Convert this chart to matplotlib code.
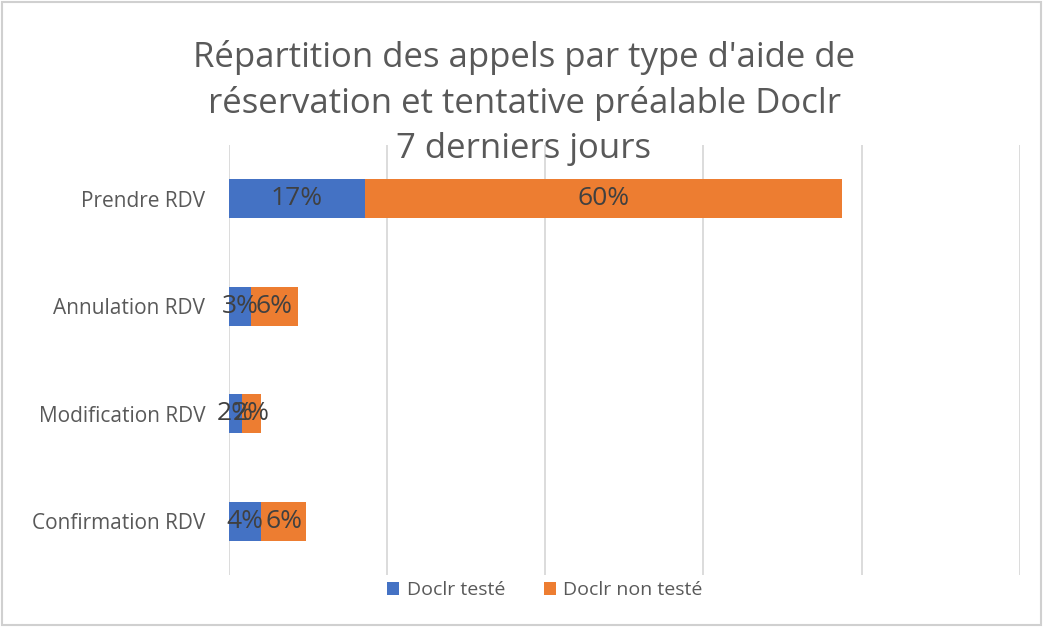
import matplotlib
matplotlib.use('Agg')
import matplotlib.pyplot as plt
from matplotlib.patches import Rectangle

# ── Données ────────────────────────────────────────────────────────────────────
categories   = ['Prendre RDV', 'Annulation RDV', 'Modification RDV', 'Confirmation RDV']
doclr_teste  = [17.2, 2.8, 1.6, 4.0]
doclr_non    = [60.3, 5.9, 2.4, 5.8]
series_names = ['Doclr testé', 'Doclr non testé']

BLUE   = '#4472C4'
ORANGE = '#ED7D31'
TEXT   = '#404040'
GRID   = '#D9D9D9'

plt.rcParams['font.family'] = ['Open Sans', 'DejaVu Sans']

fig = plt.figure(figsize=(10.48, 6.3), dpi=100)
ax = fig.add_axes([0.2185, 0.0873, 0.7545, 0.6827])

y = list(range(len(categories)))
h = 0.36
b1 = ax.barh(y, doclr_teste, height=h, color=BLUE, label=series_names[0])
b2 = ax.barh(y, doclr_non, height=h, left=doclr_teste, color=ORANGE, label=series_names[1])

for bars in (b1, b2):
    ax.bar_label(bars, labels=[f'{v:.0f}%' for v in bars.datavalues],
                 label_type='center', fontsize=19, color=TEXT)

ax.set_xlim(0, 100)
ax.set_ylim(len(categories) - 0.5, -0.5)
ax.set_xticks([0, 20, 40, 60, 80, 100])
ax.xaxis.set_tick_params(length=0, labelbottom=False)
ax.set_yticks(y)
ax.set_yticklabels(categories, fontsize=15, color='#595959')
ax.yaxis.set_tick_params(length=0, pad=17)
ax.grid(axis='x', color=GRID, linewidth=1.3)
ax.set_axisbelow(True)
for s in ax.spines.values():
    s.set_visible(False)

fig.text(0.5, 0.837, "Répartition des appels par type d'aide de\n"
         "réservation et tentative préalable Doclr\n7 derniers jours",
         ha='center', va='center', fontsize=25, color='#595959', linespacing=1.42)

fig.legend(handles=[b1, b2], loc='center', bbox_to_anchor=(0.52, 0.063), ncol=2,
           frameon=False, fontsize=14, handlelength=0.6, handleheight=0.6,
           columnspacing=2.0, handletextpad=0.4, labelcolor='#595959')

fig.patches.append(Rectangle((0.002, 0.008), 0.991, 0.989, transform=fig.transFigure,
                             fill=False, edgecolor='#D0D0D0', linewidth=1.5))

fig.savefig('out.png', dpi=100, facecolor='white')
